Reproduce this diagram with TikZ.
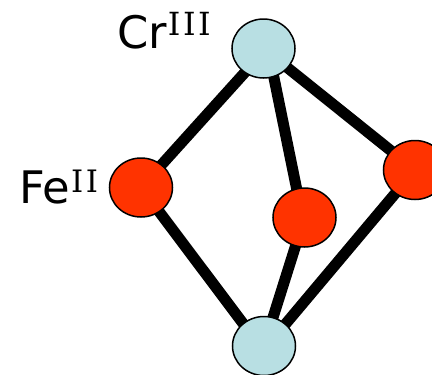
\documentclass[tikz,border=0pt]{standalone}
\usepackage{fontspec}
\setmainfont{DejaVu Sans}
\newfontfamily\supfont[LetterSpace=8]{DejaVu Serif}
\usetikzlibrary{backgrounds,shapes.geometric}
\definecolor{crblue}{HTML}{B8DFE3}
\definecolor{fered}{HTML}{FF3300}
\begin{document}
\begin{tikzpicture}[x=1bp,y=-1bp,
  atom/.style={ellipse, draw=black, line width=1.5bp, minimum width=63bp, minimum height=59bp, inner sep=0pt},
  cratom/.style={atom, fill=crblue},
  featom/.style={atom, fill=fered},
  bond/.style={line width=11bp, black},
  lab/.style={anchor=base west, inner sep=0pt, font=\fontsize{45}{45}\selectfont}]
\useasboundingbox (0,0) rectangle (432,375);
\node[cratom] (t) at (263.5,48.5) {};
\node[featom] (l) at (141,187.5) {};
\node[featom] (m) at (304.5,217.5) {};
\node[featom] (r) at (415,170) {};
\node[cratom] (b) at (264,346) {};
\begin{scope}[on background layer]
  \draw[bond] ([xshift=3bp]t.center) -- (l.center);
  \draw[bond] ([xshift=4.5bp]t.center) -- ([xshift=-2bp]m.center);
  \draw[bond] (t.center) -- (r.center);
  \draw[bond] (l.center) -- ([xshift=-4bp]b.center);
  \draw[bond] (m.center) -- (b.center);
  \draw[bond] (r.center) -- ([xshift=3bp]b.center);
\end{scope}
\node[lab] (crl) at (117,48) {Cr\kern1bp\raisebox{13bp}{\fontsize{32}{32}\supfont III}};
\node[lab] (fel) at (19,203) {Fe\kern1bp\raisebox{11bp}{\fontsize{31}{31}\supfont II}};
\end{tikzpicture}
\end{document}
